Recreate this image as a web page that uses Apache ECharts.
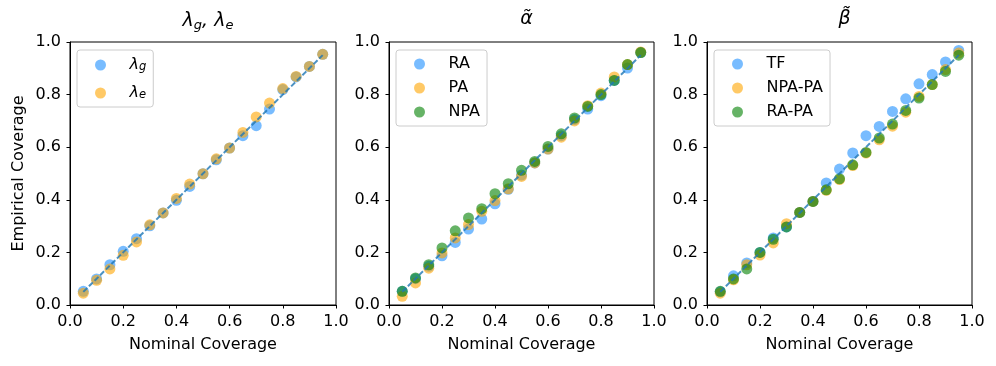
<!DOCTYPE html>
<html><head><meta charset="utf-8">
<script src="https://cdn.jsdelivr.net/npm/echarts@6/dist/echarts.min.js"></script>
<style>html,body{margin:0;padding:0;background:#fff}#c{width:996px;height:366px}</style>
</head><body><div id="c"></div>
<script>
const nominal = [0.05,0.10,0.15,0.20,0.25,0.30,0.35,0.40,0.45,0.50,0.55,0.60,0.65,0.70,0.75,0.80,0.85,0.90,0.95];
const ticks = [0.0,0.2,0.4,0.6,0.8,1.0];
// Panel 1
const lamG = [0.052,0.099,0.153,0.204,0.252,0.301,0.350,0.398,0.451,0.499,0.552,0.597,0.644,0.682,0.745,0.819,0.867,0.907,0.953];
const lamE = [0.045,0.094,0.137,0.189,0.240,0.305,0.350,0.405,0.460,0.499,0.556,0.597,0.656,0.715,0.768,0.823,0.869,0.907,0.953];
// Panel 2
const RA  = [0.052,0.100,0.147,0.187,0.238,0.289,0.327,0.385,0.440,0.494,0.540,0.593,0.644,0.705,0.745,0.796,0.854,0.901,0.960];
const PA  = [0.033,0.084,0.140,0.198,0.255,0.306,0.356,0.397,0.442,0.489,0.540,0.593,0.638,0.700,0.758,0.806,0.867,0.914,0.962];
const NPA = [0.052,0.103,0.153,0.217,0.282,0.331,0.366,0.423,0.461,0.512,0.546,0.603,0.651,0.711,0.755,0.800,0.854,0.914,0.960];
// Panel 3
const TF    = [0.050,0.111,0.160,0.200,0.255,0.297,0.352,0.394,0.464,0.517,0.578,0.644,0.679,0.736,0.784,0.841,0.876,0.924,0.968];
const NPAPA = [0.045,0.096,0.153,0.190,0.236,0.309,0.352,0.394,0.436,0.477,0.530,0.578,0.628,0.680,0.733,0.793,0.838,0.895,0.958];
const RAPA  = [0.052,0.099,0.137,0.200,0.250,0.297,0.352,0.394,0.438,0.480,0.533,0.580,0.635,0.688,0.740,0.787,0.838,0.888,0.950];

const FONT = 'DejaVu Sans';
const FS = 16;
const COLORS = {blue:'#1E90FF', orange:'#FFA500', green:'#008000'};
const grids = [
  {left:70, top:42, width:266, height:263},
  {left:389, top:42, width:265, height:263},
  {left:707, top:42, width:265, height:263}
];
const panels = [
  {title:'{l|λ}{s|g}{l|, λ}{s|e}', series:[['λg',lamG,COLORS.blue],['λe',lamE,COLORS.orange]]},
  {title:'{l|α̃}', series:[['RA',RA,COLORS.blue],['PA',PA,COLORS.orange],['NPA',NPA,COLORS.green]]},
  {title:'{l|β̃}', series:[['TF',TF,COLORS.blue],['NPA-PA',NPAPA,COLORS.orange],['RA-PA',RAPA,COLORS.green]]}
];
const pair = (ys) => nominal.map((x,i)=>[x,ys[i]]);
const legendLabel = {'λg':'{l|λ}{s|g}','λe':'{l|λ}{s|e}'};

const option = {animation:false, grid:[], xAxis:[], yAxis:[], series:[], legend:[], title:[]};
grids.forEach((g,i)=>{
  option.grid.push(Object.assign({show:true, borderColor:'#000', borderWidth:1, backgroundColor:'transparent'}, g));
  option.xAxis.push({gridIndex:i, type:'value', min:0, max:1, interval:0.2,
    name:'Nominal Coverage', nameLocation:'middle', nameGap:32,
    nameTextStyle:{fontFamily:FONT, fontSize:FS, color:'#000'},
    axisLine:{show:true, lineStyle:{color:'#000', width:1}},
    axisTick:{show:true, length:3.5, lineStyle:{color:'#000'}},
    axisLabel:{fontFamily:FONT, fontSize:FS, color:'#000', margin:9, formatter:v=>v.toFixed(1)},
    splitLine:{show:false}});
  option.yAxis.push({gridIndex:i, type:'value', min:0, max:1, interval:0.2,
    name: i===0 ? 'Empirical Coverage' : '', nameLocation:'middle', nameGap:43,
    nameTextStyle:{fontFamily:FONT, fontSize:FS, color:'#000'},
    axisLine:{show:true, lineStyle:{color:'#000', width:1}},
    axisTick:{show:true, length:3.5, lineStyle:{color:'#000'}},
    axisLabel:{fontFamily:FONT, fontSize:FS, color:'#000', margin:9, formatter:v=>v.toFixed(1)},
    splitLine:{show:false}});
  const p = panels[i];
  option.title.push({text:p.title, left:g.left+g.width/2, top:5, textAlign:'center',
    textStyle:{fontFamily:FONT, fontSize:19, fontWeight:'normal', color:'#000',
      rich:{l:{fontFamily:FONT, fontStyle:'italic', fontSize:19, color:'#000', verticalAlign:'middle'},
            s:{fontFamily:FONT, fontStyle:'italic', fontSize:13, color:'#000', verticalAlign:'bottom', padding:[9,0,0,0]}}}});
  p.series.forEach(([name,ys,col])=>{
    option.series.push({type:'scatter', name, xAxisIndex:i, yAxisIndex:i, data:pair(ys),
      symbol:'circle', symbolSize:11, itemStyle:{color:col, opacity:0.6}, z:2});
  });
  option.series.push({type:'line', xAxisIndex:i, yAxisIndex:i, data:nominal.map(v=>[v,v]),
    symbol:'none', silent:true, z:3,
    lineStyle:{color:'#1f77b4', width:2, type:[5.5,2.4], opacity:0.8}});
  option.legend.push({data:p.series.map(s=>s[0]), orient:'vertical', left:g.left+7, top:50,
    padding: i===0 ? [7,7,6,18] : [6,7,6,18], itemGap: i===0 ? 12 : 8, itemWidth:34, itemHeight:11, icon:'circle',
    backgroundColor:'rgba(255,255,255,0.8)', borderColor:'#ccc', borderWidth:1, borderRadius:3,
    formatter: n => legendLabel[n] || ('{t|' + n + '}'),
    textStyle:{fontFamily:FONT, fontSize:FS, color:'#000', lineHeight:16,
      rich:{t:{fontFamily:FONT, fontSize:FS, color:'#000', padding:[0,0,0,7]},
            l:{fontFamily:FONT, fontStyle:'italic', fontSize:FS, color:'#000', padding:[0,0,0,7], verticalAlign:'middle'},
            s:{fontFamily:FONT, fontStyle:'italic', fontSize:11.5, color:'#000', verticalAlign:'bottom', padding:[8,0,0,0]}}}});
});
const chart = echarts.init(document.getElementById('c'), null, {renderer:'canvas'});
chart.setOption(option);
</script></body></html>
